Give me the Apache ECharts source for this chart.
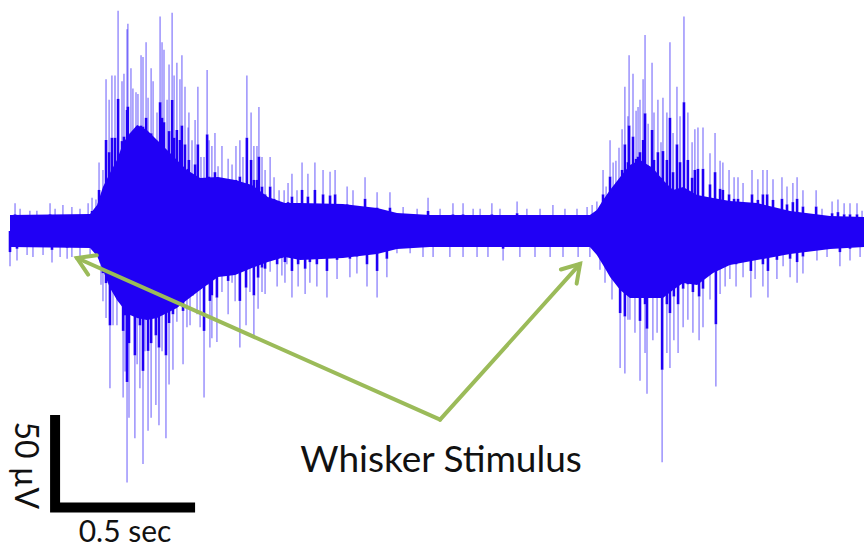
<!DOCTYPE html>
<html>
<head>
<meta charset="utf-8">
<script src="https://cdn.jsdelivr.net/npm/echarts@6/dist/echarts.min.js"></script>
<style>
  html, body { margin: 0; padding: 0; background: #ffffff; }
  #chart { width: 864px; height: 550px; }
</style>
</head>
<body>
<div id="chart"></div>
<script>
// Extracellular recording, barrel cortex: time in seconds, voltage in µV.

// Dense envelope of the trace (upper / lower edge of the solid band)
const coreTime  = [0, 0.286, 0.311, 0.332, 0.357, 0.382, 0.404, 0.429, 0.454, 0.489, 0.525, 0.561, 0.596, 0.632, 0.679, 0.743, 0.804, 0.864, 0.921, 0.982, 1.036, 1.189, 1.311, 1.382, 1.5, 2.071, 2.096, 2.118, 2.143, 2.179, 2.214, 2.25, 2.296, 2.332, 2.368, 2.404, 2.454, 2.511, 2.571, 2.668, 2.786, 2.929, 3.05];
const coreUpper = [8.6, 9.2, 14.1, 23.8, 31.4, 38.4, 47.6, 53.0, 57.3, 54.6, 49.2, 43.8, 38.4, 33.0, 28.6, 29.2, 27.6, 24.9, 18.4, 15.1, 15.1, 14.6, 12.4, 9.7, 8.6, 8.6, 11.4, 16.8, 22.2, 29.2, 35.7, 38.4, 34.1, 27.6, 22.2, 23.8, 19.5, 17.8, 16.2, 15.1, 10.8, 8.1, 7.6];
const coreLower = [-8.6, -9.2, -13.5, -21.1, -30.8, -37.3, -41.6, -45.4, -47.0, -48.1, -47.0, -44.3, -41.6, -37.3, -31.9, -24.9, -23.8, -20.0, -16.8, -14.1, -15.7, -14.6, -12.4, -9.7, -8.6, -8.6, -13.0, -18.4, -24.9, -31.9, -36.2, -36.2, -36.2, -36.2, -31.9, -28.1, -29.2, -22.7, -18.4, -15.7, -12.4, -9.7, -8.6];

// Individual spikes [time s, peak µV]
const baselineUp1 = [[0.018,15],[0.036,12],[0.071,11],[0.096,11],[0.143,15],[0.161,12],[0.189,14],[0.221,13],[0.25,12],[0.279,15]];
const burst1Up = [[0.293,18],[0.307,17],[0.318,37],[0.332,33],[0.343,82],[0.354,71],[0.364,84],[0.375,84],[0.386,119],[0.4,81],[0.407,85],[0.418,109],[0.421,112],[0.432,88],[0.439,77],[0.45,75],[0.457,74],[0.468,95],[0.475,94],[0.486,102],[0.493,72],[0.504,88],[0.511,81],[0.525,64],[0.536,116],[0.543,102],[0.55,98],[0.561,71],[0.568,90],[0.579,118],[0.586,84],[0.596,91],[0.607,82],[0.614,95],[0.625,78],[0.636,56],[0.639,64],[0.65,49],[0.661,60],[0.671,78],[0.682,40],[0.693,40],[0.704,87],[0.711,49],[0.721,46],[0.732,53],[0.743,35],[0.757,46],[0.779,39],[0.793,36],[0.807,46],[0.821,49],[0.832,40],[0.846,84],[0.861,64],[0.871,46],[0.882,46],[0.889,67],[0.9,40],[0.911,33],[0.929,40],[0.943,29],[0.961,22],[0.979,22],[0.993,26],[1.007,31],[1.025,22],[1.043,37],[1.064,31],[1.089,37],[1.118,33],[1.143,32],[1.161,33],[1.204,24],[1.225,22],[1.268,29],[1.311,21],[1.357,21],[1.404,13],[1.454,12],[1.493,18]];
const baselineUp2 = [[1.536,12],[1.582,15],[1.618,15],[1.654,12],[1.679,12],[1.721,15],[1.75,12],[1.811,16],[1.846,12],[1.893,12],[1.939,14],[1.982,12],[2.025,12],[2.061,13],[2.079,14]];
const burst2Up = [[2.096,16],[2.118,33],[2.129,24],[2.143,49],[2.154,37],[2.164,38],[2.175,45],[2.186,55],[2.196,78],[2.207,62],[2.211,95],[2.225,85],[2.236,65],[2.243,67],[2.25,71],[2.261,82],[2.268,106],[2.279,58],[2.293,91],[2.3,64],[2.314,71],[2.325,48],[2.332,72],[2.346,64],[2.357,102],[2.368,53],[2.382,78],[2.393,62],[2.407,116],[2.421,64],[2.436,48],[2.446,55],[2.457,56],[2.475,56],[2.5,42],[2.518,53],[2.536,38],[2.546,37],[2.568,33],[2.586,29],[2.6,29],[2.618,26],[2.65,33],[2.671,28],[2.689,33],[2.704,33],[2.725,28],[2.757,29],[2.775,24],[2.796,26],[2.811,29],[2.832,22],[2.879,22],[2.9,12],[2.936,16],[2.957,17],[2.979,15],[3.0,15],[3.025,15],[3.043,11]];

const baselineDown1 = [[0.0,-19],[0.025,-16],[0.061,-13],[0.082,-14],[0.118,-13],[0.15,-17],[0.179,-14],[0.204,-15],[0.221,-14],[0.25,-14],[0.286,-14]];
const burst1Down = [[0.325,-29],[0.332,-38],[0.343,-47],[0.357,-85],[0.368,-51],[0.382,-51],[0.393,-31],[0.404,-90],[0.411,-76],[0.418,-136],[0.425,-101],[0.446,-112],[0.454,-72],[0.464,-85],[0.475,-126],[0.482,-65],[0.493,-108],[0.504,-101],[0.521,-94],[0.532,-105],[0.543,-65],[0.557,-112],[0.568,-83],[0.582,-75],[0.596,-49],[0.618,-72],[0.632,-52],[0.643,-51],[0.654,-35],[0.668,-45],[0.679,-52],[0.693,-90],[0.707,-29],[0.714,-63],[0.721,-58],[0.739,-60],[0.757,-33],[0.779,-45],[0.793,-28],[0.804,-38],[0.821,-63],[0.843,-51],[0.857,-33],[0.871,-58],[0.886,-42],[0.9,-33],[0.911,-34],[0.929,-22],[0.954,-30],[0.971,-24],[0.982,-28],[0.989,-18],[1.007,-36],[1.029,-30],[1.054,-34],[1.071,-28],[1.096,-30],[1.132,-36],[1.168,-26],[1.214,-25],[1.239,-23],[1.275,-30],[1.311,-36],[1.346,-25],[1.382,-12],[1.429,-12],[1.475,-14]];
const baselineDown2 = [[1.511,-14],[1.571,-14],[1.618,-14],[1.668,-14],[1.707,-14],[1.761,-16],[1.821,-14],[1.875,-14],[1.929,-14],[1.975,-14],[2.029,-14],[2.071,-14]];
const burst2Down = [[2.107,-21],[2.125,-28],[2.15,-37],[2.179,-74],[2.196,-77],[2.207,-48],[2.214,-48],[2.232,-55],[2.25,-81],[2.268,-66],[2.275,-88],[2.296,-59],[2.311,-55],[2.329,-125],[2.346,-66],[2.357,-74],[2.371,-59],[2.386,-66],[2.404,-52],[2.421,-48],[2.439,-55],[2.461,-59],[2.475,-52],[2.5,-37],[2.521,-84],[2.536,-34],[2.554,-30],[2.571,-26],[2.593,-30],[2.618,-25],[2.646,-36],[2.661,-26],[2.689,-30],[2.707,-36],[2.739,-26],[2.761,-19],[2.786,-25],[2.811,-28],[2.832,-23],[2.882,-16],[2.918,-14],[2.964,-19],[3.0,-16],[3.036,-14]];

// Scale bar: corner [s, µV] and extent
const scaleCorner = [0.161, -149.5];
const scaleSize = [0.5, 50];
const scaleLabels = ['0.5 sec', '50 µV'];

// Stimulus callout: arrow tips [s, µV] and the shared origin
const stimulusTips = [[0.239, -14.6], [2.036, -17.8]];
const calloutOrigin = [1.536, -102];
const calloutText = 'Whisker Stimulus';

const TRACE = '#2000f5';
const SPIKE = 'rgba(40, 20, 250, 0.5)';
const GREEN = '#9bbb59';
const FONT = 'Lato, "Open Sans", sans-serif';
// overlapping sweeps make the inner part of each deflection look solid
const SOLID_PART = 0.6;

const spikes = [].concat(baselineUp1, burst1Up, baselineUp2, burst2Up,
                         baselineDown1, burst1Down, baselineDown2, burst2Down);

const chart = echarts.init(document.getElementById('chart'), null, { renderer: 'svg' });

chart.setOption({
  animation: false,
  backgroundColor: '#ffffff',
  grid: { left: 10, right: 0, top: 0, bottom: 0 },
  xAxis: { type: 'value', min: 0, max: 3.05, show: false },
  yAxis: { type: 'value', min: -172.43, max: 124.86, show: false },
  series: [
    {
      // spike lines from the baseline to their peaks
      type: 'custom',
      z: 2,
      data: spikes,
      encode: { x: 0, y: 1 },
      renderItem: function (params, api) {
        const t = api.value(0), v = api.value(1);
        const p0 = api.coord([t, 0]);
        const pm = api.coord([t, v * SOLID_PART]);
        const p1 = api.coord([t, v]);
        return {
          type: 'group',
          children: [
            {
              type: 'line',
              shape: { x1: pm[0], y1: pm[1], x2: p1[0], y2: p1[1] },
              style: { stroke: SPIKE, lineWidth: 1.4 }
            },
            {
              type: 'line',
              shape: { x1: p0[0], y1: p0[1], x2: pm[0], y2: pm[1] },
              style: { stroke: TRACE, lineWidth: 2.6 }
            }
          ]
        };
      }
    },
    {
      // dense band of the trace
      type: 'custom',
      z: 3,
      data: [[coreTime[0], 0]],
      encode: { x: 0, y: 1 },
      renderItem: function (params, api) {
        const pts = [];
        for (let i = 0; i < coreTime.length; i++) pts.push(api.coord([coreTime[i], coreUpper[i]]));
        for (let i = coreTime.length - 1; i >= 0; i--) pts.push(api.coord([coreTime[i], coreLower[i]]));
        return { type: 'polygon', shape: { points: pts }, style: { fill: TRACE } };
      }
    },
    {
      // scale bar with its labels
      type: 'custom',
      z: 4,
      data: [scaleCorner],
      encode: { x: 0, y: 1 },
      renderItem: function (params, api) {
        const c = api.coord(scaleCorner);
        const top = api.coord([scaleCorner[0], scaleCorner[1] + scaleSize[1]]);
        const right = api.coord([scaleCorner[0] + scaleSize[0], scaleCorner[1]]);
        return {
          type: 'group',
          children: [
            {
              type: 'polyline',
              shape: { points: [top, c, right] },
              style: { stroke: '#000', lineWidth: 10, fill: null, lineJoin: 'miter', lineCap: 'butt' }
            },
            {
              type: 'text',
              x: (c[0] + right[0]) / 2, y: c[1] + 22,
              style: { text: scaleLabels[0], font: '30px ' + FONT, lineHeight: 30, fill: '#111', align: 'center', verticalAlign: 'middle' }
            },
            {
              type: 'text',
              x: c[0] - 28, y: (c[1] + top[1]) / 2 + 4,
              rotation: -Math.PI / 2,
              style: { text: scaleLabels[1], font: '32px ' + FONT, fill: '#111', align: 'center', verticalAlign: 'middle' }
            }
          ]
        };
      }
    },
    {
      // stimulus arrows and caption
      type: 'custom',
      z: 5,
      data: [calloutOrigin],
      encode: { x: 0, y: 1 },
      renderItem: function (params, api) {
        const o = api.coord(calloutOrigin);
        const children = [];
        const len = 20, ang = 32 * Math.PI / 180;
        stimulusTips.forEach(function (tipVal) {
          const tip = api.coord(tipVal);
          const dx = o[0] - tip[0], dy = o[1] - tip[1];
          const L = Math.hypot(dx, dy), ux = dx / L, uy = dy / L;
          const arm = function (a) {
            return [tip[0] + len * (ux * Math.cos(a) - uy * Math.sin(a)),
                    tip[1] + len * (ux * Math.sin(a) + uy * Math.cos(a))];
          };
          children.push({
            type: 'line',
            shape: { x1: o[0], y1: o[1], x2: tip[0], y2: tip[1] },
            style: { stroke: GREEN, lineWidth: 4, lineCap: 'round' }
          });
          children.push({
            type: 'polyline',
            shape: { points: [arm(ang), tip, arm(-ang)] },
            style: { stroke: GREEN, lineWidth: 4, fill: null, lineJoin: 'miter', lineCap: 'round' }
          });
        });
        children.push({
          type: 'text',
          x: o[0] + 1, y: o[1] + 38,
          style: { text: calloutText, font: '37px ' + FONT, fill: '#111', align: 'center', verticalAlign: 'middle' }
        });
        return { type: 'group', children: children };
      }
    }
  ]
});
</script>
</body>
</html>
